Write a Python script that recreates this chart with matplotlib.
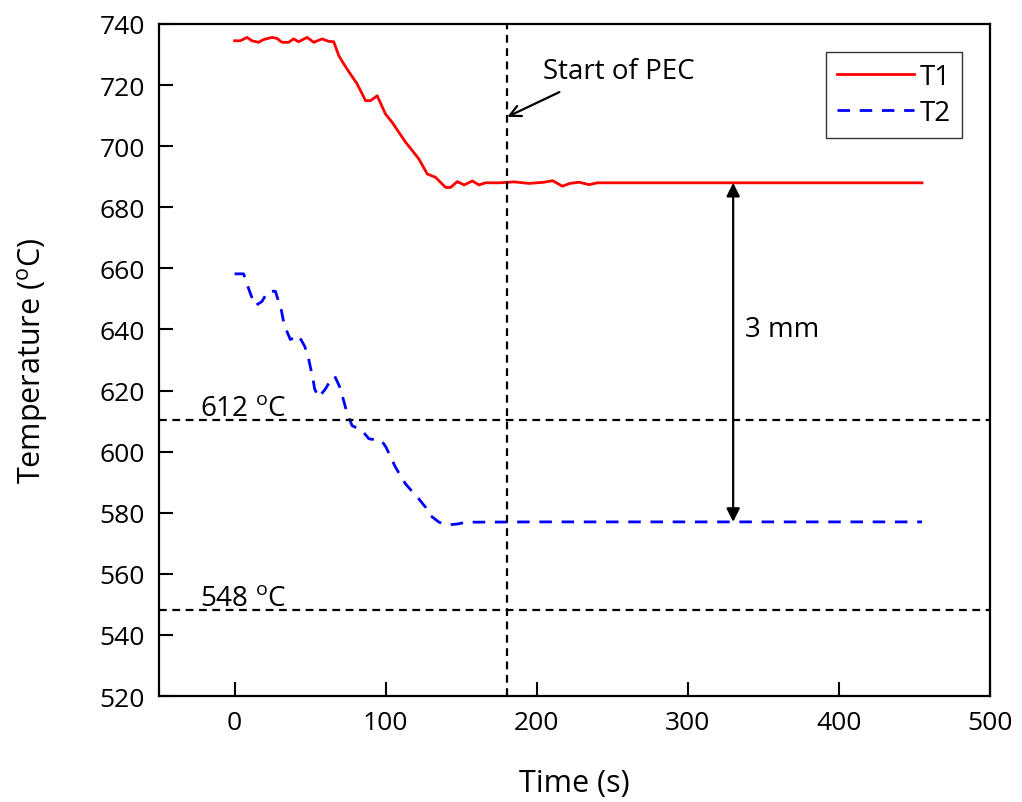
import matplotlib
matplotlib.use("Agg")
import matplotlib.pyplot as plt

plt.rcParams['font.family'] = ['Open Sans', 'DejaVu Sans']
plt.rcParams['mathtext.fontset'] = 'custom'
plt.rcParams['mathtext.rm'] = 'Open Sans'

# T1 (thermocouple 1) readings
t1_time = [0, 3.8, 8.2, 11.5, 15.9, 19.2, 24.8, 28, 31.4, 35.8, 39.1, 42.4, 48, 52.4, 57.9, 62.3,
           65.6, 69, 72.3, 76.7, 81.1, 86.7, 90, 94.4, 99.9, 104.3, 113.2, 122, 127.5, 133,
           139.7, 143, 147.4, 151.9, 157.4, 161.8, 166, 175, 185, 195, 205, 210.4, 217, 222,
           228, 234.7, 240, 250, 260, 280, 300, 330, 360, 390, 420, 455]
t1_temp = [734.5, 734.5, 735.6, 734.5, 734.0, 734.9, 735.6, 735.3, 734.0, 734.0, 735.1, 734.2,
           735.6, 734.0, 735.1, 734.3, 734.2, 729.6, 726.9, 723.6, 720.4, 714.9, 714.9, 716.5,
           710.5, 707.8, 701.3, 695.8, 690.9, 689.8, 686.5, 686.5, 688.4, 687.3, 688.6, 687.3,
           688.0, 688.0, 688.3, 687.8, 688.2, 688.7, 686.9, 687.8, 688.2, 687.4, 688.0, 688.0,
           688.0, 688.0, 688.0, 688.0, 688.0, 688.0, 688.0, 688.0]

# T2 (thermocouple 2) readings
t2_time = [0, 6, 8.2, 10.8, 13.7, 18.1, 22, 27, 29.2, 31, 32.5, 34.7, 36.9, 42.4, 46.4, 48.6,
           50.2, 51.7, 53, 55.7, 60.1, 63, 66.3, 69.4, 71.6, 73.4, 76, 77.8, 84.4, 88.9, 97.3,
           100.3, 103.9, 106.5, 110.5, 113.2, 118, 122, 126.4, 129.1, 135.3, 140.8, 147.4, 153,
           200, 250, 300, 350, 400, 455]
t2_temp = [658.2, 658.2, 654.9, 651.3, 647.8, 649.1, 652.5, 652.5, 649.1, 646.2, 642.4, 639.3,
           636.7, 638.0, 634.5, 631.4, 627.6, 624.4, 620.5, 617.8, 620.5, 622.9, 624.7, 621.4,
           617.8, 614.5, 610.7, 608.5, 606.9, 604.2, 603.6, 601.4, 597.6, 594.9, 591.6, 589.4,
           586.7, 584.5, 581.8, 579.3, 576.9, 576.0, 576.3, 576.9, 577.0, 577.0, 577.0, 577.0,
           577.0, 577.0]

x_ticks = [0, 100, 200, 300, 400, 500]
y_ticks = [520, 540, 560, 580, 600, 620, 640, 660, 680, 700, 720, 740]

pec_time = 180
line_612 = 610.5
line_548 = 548
arrow_time = 330
arrow_top = 688
arrow_bottom = 577

fig = plt.figure(figsize=(10.22, 8.03), dpi=100)
ax = fig.add_axes([0.1556, 0.132, 0.8131, 0.8369])

ax.plot(t1_time, t1_temp, color='#ff0000', lw=2.0, label='T1')
ax.plot(t2_time, t2_temp, color='#0000ff', lw=2.0, dashes=(4.5, 3.5), label='T2')

ax.axvline(pec_time, color='black', lw=1.6, dashes=(3.5, 2.5))
ax.axhline(line_612, color='black', lw=1.6, dashes=(3.5, 2.5))
ax.axhline(line_548, color='black', lw=1.6, dashes=(3.5, 2.5))

ax.text(-23, 611.8, '612 $^{\\mathrm{o}}$C', fontsize=20, ha='left', va='baseline')
ax.text(-23, 549.4, '548 $^{\\mathrm{o}}$C', fontsize=20, ha='left', va='baseline')

ax.text(204, 724.5, 'Start of PEC', fontsize=20, ha='left', va='center')
ax.annotate('', xy=(pec_time + 0.5, 709.6), xytext=(215, 717.7),
            arrowprops=dict(arrowstyle='->', color='black', lw=1.6, shrinkA=0, shrinkB=0,
                            mutation_scale=20))

ax.annotate('', xy=(arrow_time, arrow_top), xytext=(arrow_time, arrow_bottom),
            arrowprops=dict(arrowstyle='<|-|>', color='black', lw=1.6, shrinkA=0, shrinkB=0,
                            mutation_scale=20))
ax.text(338, 640, '3 mm', fontsize=20, ha='left', va='center')

ax.set_xlim(-50, 500)
ax.set_ylim(520, 740)
ax.set_xticks(x_ticks)
ax.set_yticks(y_ticks)
ax.tick_params(direction='in', length=10, width=1.5, labelsize=19, pad=10)
ax.tick_params(axis='x', pad=10)
for s in ax.spines.values():
    s.set_linewidth(1.6)

ax.set_xlabel('Time (s)', fontsize=22, labelpad=24)
ax.set_ylabel('Temperature ($^{\\mathrm{o}}$C)', fontsize=22, labelpad=36)

leg = ax.legend(loc='upper right', fontsize=20, frameon=True, fancybox=False,
                edgecolor='black', handlelength=2.8, borderaxespad=1.0,
                handletextpad=0.2, labelspacing=0.3, borderpad=0.4)
leg.get_frame().set_linewidth(1.0)

fig.savefig('out.png', dpi=100)
